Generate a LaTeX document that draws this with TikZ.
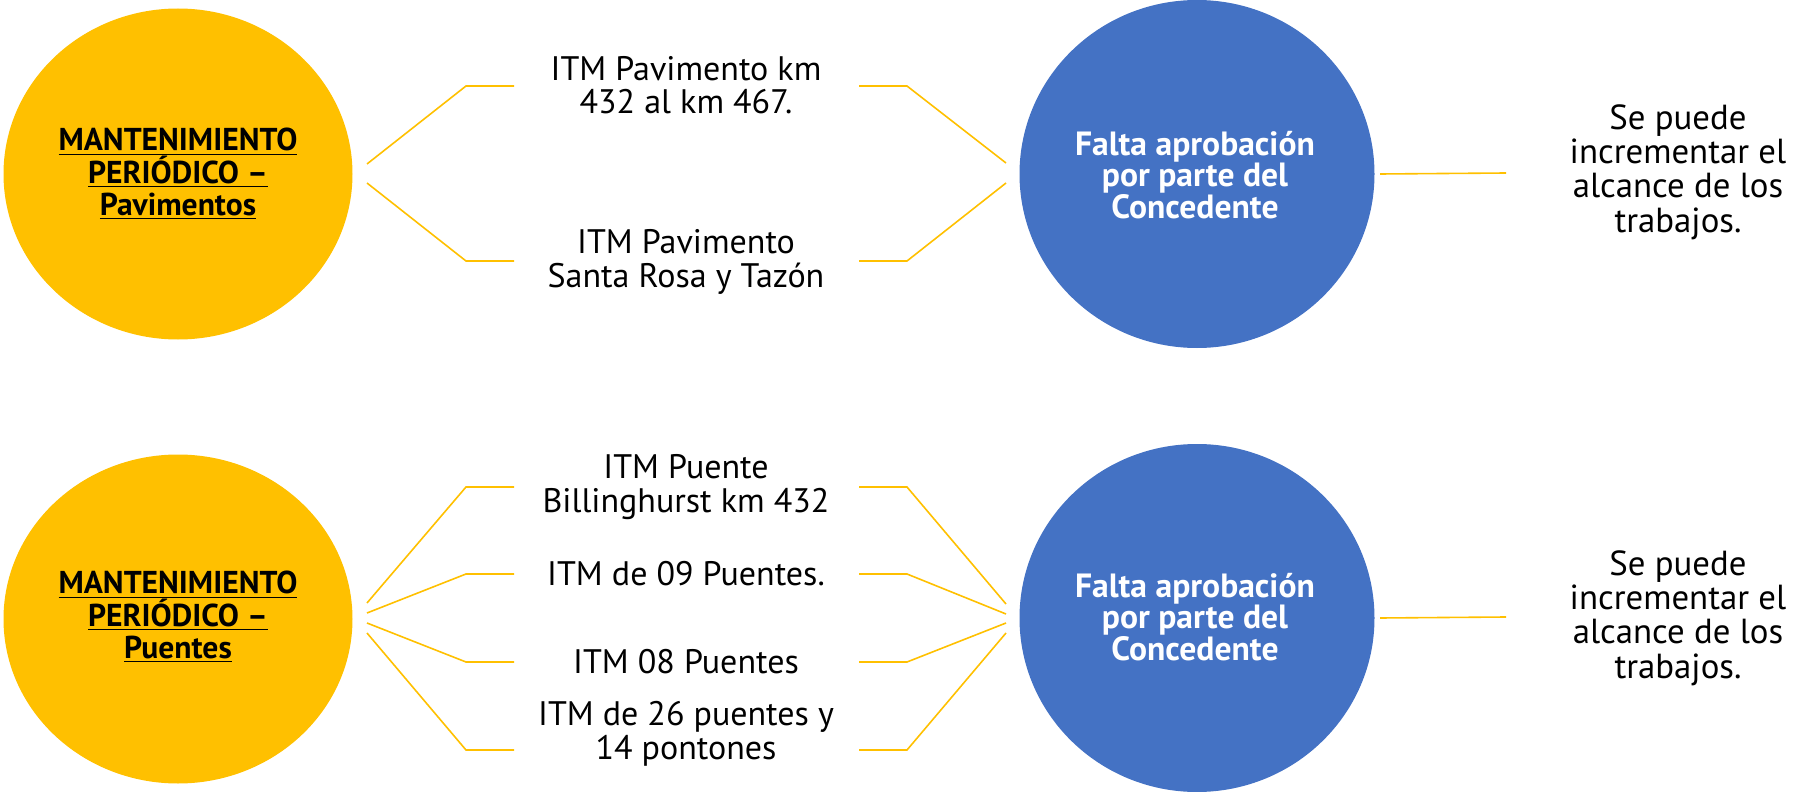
\documentclass[tikz,border=0pt]{standalone}
\usepackage{fontspec}
\setmainfont{PT Sans}
\usetikzlibrary{shapes.geometric}
\definecolor{gold}{HTML}{FFC000}
\definecolor{steel}{HTML}{4472C4}
\tikzset{
  goldball/.style={ellipse, fill=gold, draw=none, inner sep=0pt},
  blueball/.style={ellipse, fill=steel, draw=none, inner sep=0pt},
  goldtext/.style={align=center, font=\fontsize{15.8}{16.2}\selectfont\bfseries},
  bluetext/.style={align=center, text=white, font=\fontsize{16.8}{15.6}\selectfont\bfseries},
  itemtext/.style={align=center, font=\fontsize{17}{16.8}\selectfont},
  sidetext/.style={align=center, font=\fontsize{17.4}{17.2}\selectfont},
  link/.style={draw=gold, line width=0.8pt}
}
\newcommand{\ul}[1]{\underline{#1}}
\begin{document}
\begin{tikzpicture}[x=0.5pt,y=-0.5pt]
\useasboundingbox (0,0) rectangle (1796,792);
% ---------- top row ----------
\node[goldball, minimum width=174.5pt, minimum height=165.5pt] (y1) at (178,174) {};
\node[goldtext] (y1t) at (178,174) {\ul{MANTENIMIENTO}\\\ul{PERIÓDICO –}\\\ul{Pavimentos}};
\node[blueball, minimum width=177.5pt, minimum height=174pt] (b1) at (1197,174) {};
\node[bluetext] (b1t) at (1195,175) {Falta aprobación\\por parte del\\Concedente};
\node[itemtext] (m1) at (686,85) {ITM Pavimento km\\432 al km 467.};
\node[itemtext] (m2) at (686,262) {ITM Pavimento\\Santa Rosa y Tazón};
\node[sidetext] (r1) at (1678,172) {Se puede\\incrementar el\\alcance de los\\trabajos.};
\coordinate (y1u) at (367,164); \coordinate (y1d) at (367,183);
\coordinate (b1u) at (1006,163); \coordinate (b1d) at (1006,183);
\coordinate (m1l) at (514,86); \coordinate (m1r) at (859,86);
\coordinate (m2l) at (514,261); \coordinate (m2r) at (859,261);
\coordinate (b1e) at (1380,174); \coordinate (r1w) at (1506,173);
\draw[link] (y1u) -- (466,86) -- (m1l);
\draw[link] (y1d) -- (466,261) -- (m2l);
\draw[link] (m1r) -- (907,86) -- (b1u);
\draw[link] (m2r) -- (907,261) -- (b1d);
\draw[link] (b1e) -- (r1w);
% ---------- bottom row ----------
\node[goldball, minimum width=174.5pt, minimum height=164.5pt] (y2) at (178,619) {};
\node[goldtext] (y2t) at (178,617) {\ul{MANTENIMIENTO}\\\ul{PERIÓDICO –}\\\ul{Puentes}};
\node[blueball, minimum width=177.5pt, minimum height=174pt] (b2) at (1197,618) {};
\node[bluetext] (b2t) at (1195,617) {Falta aprobación\\por parte del\\Concedente};
\node[itemtext] (n1) at (686,487) {ITM Puente\\Billinghurst km 432};
\node[itemtext] (n2) at (686,574) {ITM de 09 Puentes.};
\node[itemtext] (n3) at (686,662) {ITM 08 Puentes};
\node[itemtext] (n4) at (686,734) {ITM de 26 puentes y\\14 pontones};
\node[sidetext] (r2) at (1678,618) {Se puede\\incrementar el\\alcance de los\\trabajos.};
\coordinate (y2a) at (367,603); \coordinate (y2b) at (367,613);
\coordinate (y2c) at (367,623); \coordinate (y2d) at (367,633);
\coordinate (b2a) at (1006,604); \coordinate (b2b) at (1006,614);
\coordinate (b2c) at (1006,623); \coordinate (b2d) at (1006,633);
\coordinate (n1l) at (514,487); \coordinate (n1r) at (859,487);
\coordinate (n2l) at (514,574); \coordinate (n2r) at (859,574);
\coordinate (n3l) at (514,662); \coordinate (n3r) at (859,662);
\coordinate (n4l) at (514,750); \coordinate (n4r) at (859,750);
\coordinate (b2e) at (1380,618); \coordinate (r2w) at (1506,617);
\draw[link] (y2a) -- (466,487) -- (n1l);
\draw[link] (y2b) -- (466,574) -- (n2l);
\draw[link] (y2c) -- (466,662) -- (n3l);
\draw[link] (y2d) -- (466,750) -- (n4l);
\draw[link] (n1r) -- (907,487) -- (b2a);
\draw[link] (n2r) -- (907,574) -- (b2b);
\draw[link] (n3r) -- (907,662) -- (b2c);
\draw[link] (n4r) -- (907,750) -- (b2d);
\draw[link] (b2e) -- (r2w);
\end{tikzpicture}
\end{document}
